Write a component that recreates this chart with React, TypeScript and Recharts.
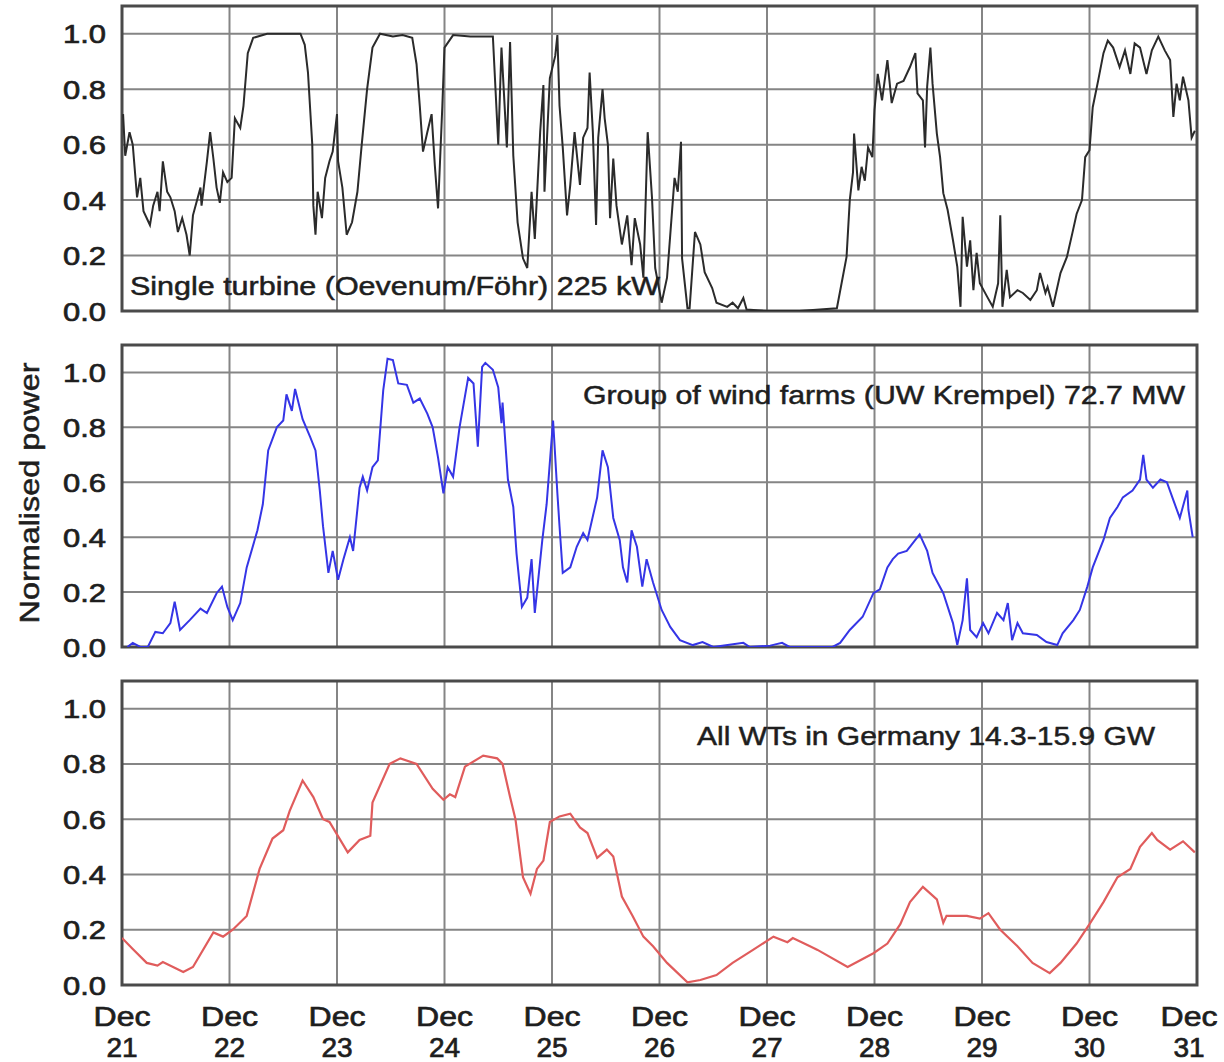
import React from 'react';
import { LineChart, Line, XAxis, YAxis, CartesianGrid, ReferenceArea } from 'recharts';

const DAY_TICKS = [0, 1, 2, 3, 4, 5, 6, 7, 8, 9, 10];
const DAY_LABELS = ['21', '22', '23', '24', '25', '26', '27', '28', '29', '30', '31'];
const MONTH_LABEL = 'Dec';
const Y_TICKS = [0, 0.2, 0.4, 0.6, 0.8, 1.0];
const Y_LABEL = 'Normalised power';
const TITLES = [
  'Single turbine (Oevenum/Föhr) 225 kW',
  'Group of wind farms (UW Krempel) 72.7 MW',
  'All WTs in Germany 14.3-15.9 GW',
];

// Single turbine (days after Dec 21 00:00, normalised power)
const turbineT = [0.01, 0.03, 0.07, 0.10, 0.14, 0.17, 0.20, 0.26, 0.29, 0.33, 0.35, 0.38, 0.42, 0.45, 0.49, 0.52, 0.56, 0.60, 0.63, 0.66, 0.73, 0.74, 0.79, 0.82, 0.85, 0.88, 0.91, 0.94, 0.98, 1.02, 1.05, 1.10, 1.13, 1.17, 1.22, 1.35, 1.66, 1.70, 1.73, 1.77, 1.78, 1.80, 1.82, 1.86, 1.89, 1.93, 1.96, 2.00, 2.01, 2.05, 2.09, 2.14, 2.19, 2.23, 2.28, 2.33, 2.40, 2.52, 2.61, 2.70, 2.74, 2.77, 2.80, 2.84, 2.88, 2.91, 2.94, 2.98, 3.00, 3.08, 3.24, 3.33, 3.45, 3.50, 3.53, 3.58, 3.61, 3.64, 3.68, 3.73, 3.77, 3.81, 3.84, 3.89, 3.92, 3.93, 3.98, 4.03, 4.05, 4.07, 4.10, 4.14, 4.17, 4.21, 4.26, 4.29, 4.33, 4.35, 4.38, 4.41, 4.43, 4.47, 4.49, 4.52, 4.54, 4.57, 4.60, 4.65, 4.70, 4.74, 4.77, 4.82, 4.85, 4.89, 4.93, 4.96, 5.02, 5.07, 5.14, 5.17, 5.20, 5.21, 5.26, 5.28, 5.33, 5.38, 5.42, 5.49, 5.53, 5.63, 5.68, 5.73, 5.78, 5.81, 6.00, 6.30, 6.65, 6.74, 6.77, 6.80, 6.81, 6.85, 6.88, 6.91, 6.94, 6.98, 7.00, 7.03, 7.07, 7.12, 7.16, 7.21, 7.27, 7.33, 7.38, 7.40, 7.45, 7.47, 7.49, 7.52, 7.54, 7.58, 7.61, 7.64, 7.68, 7.73, 7.77, 7.80, 7.82, 7.86, 7.89, 7.92, 7.95, 7.98, 8.05, 8.10, 8.15, 8.17, 8.19, 8.23, 8.26, 8.33, 8.38, 8.45, 8.51, 8.54, 8.59, 8.61, 8.66, 8.73, 8.79, 8.84, 8.88, 8.93, 8.96, 9.00, 9.03, 9.08, 9.13, 9.17, 9.22, 9.28, 9.33, 9.38, 9.42, 9.47, 9.53, 9.58, 9.64, 9.70, 9.75, 9.78, 9.81, 9.84, 9.87, 9.92, 9.95, 9.98];
const turbineV = [0.71, 0.56, 0.645, 0.60, 0.41, 0.48, 0.36, 0.31, 0.38, 0.43, 0.36, 0.54, 0.43, 0.41, 0.36, 0.285, 0.335, 0.275, 0.20, 0.345, 0.445, 0.38, 0.54, 0.645, 0.55, 0.445, 0.39, 0.50, 0.465, 0.48, 0.695, 0.66, 0.74, 0.93, 0.985, 1.0, 1.0, 0.96, 0.86, 0.60, 0.38, 0.275, 0.43, 0.335, 0.48, 0.54, 0.575, 0.71, 0.54, 0.445, 0.275, 0.32, 0.43, 0.60, 0.80, 0.95, 1.0, 0.99, 0.995, 0.985, 0.89, 0.74, 0.575, 0.645, 0.71, 0.525, 0.37, 0.74, 0.95, 0.995, 0.99, 0.99, 0.99, 0.60, 0.95, 0.59, 0.97, 0.56, 0.32, 0.19, 0.155, 0.43, 0.26, 0.645, 0.815, 0.43, 0.84, 0.92, 0.995, 0.74, 0.59, 0.345, 0.455, 0.645, 0.455, 0.625, 0.66, 0.86, 0.645, 0.31, 0.625, 0.80, 0.695, 0.60, 0.335, 0.55, 0.38, 0.24, 0.345, 0.165, 0.335, 0.24, 0.12, 0.645, 0.41, 0.155, 0.03, 0.12, 0.48, 0.43, 0.61, 0.19, 0.01, 0.01, 0.285, 0.24, 0.14, 0.083, 0.03, 0.015, 0.03, 0.01, 0.047, 0.005, 0, 0, 0.01, 0.195, 0.40, 0.50, 0.64, 0.435, 0.52, 0.47, 0.59, 0.555, 0.725, 0.855, 0.76, 0.905, 0.75, 0.82, 0.83, 0.88, 0.93, 0.785, 0.76, 0.59, 0.81, 0.95, 0.82, 0.64, 0.555, 0.425, 0.365, 0.255, 0.16, 0.015, 0.34, 0.16, 0.255, 0.075, 0.21, 0.10, 0.05, 0.015, 0.10, 0.345, 0.015, 0.148, 0.05, 0.075, 0.065, 0.04, 0.075, 0.137, 0.065, 0.087, 0.015, 0.137, 0.195, 0.28, 0.35, 0.40, 0.555, 0.58, 0.735, 0.83, 0.93, 0.975, 0.95, 0.88, 0.94, 0.855, 0.965, 0.95, 0.855, 0.94, 0.99, 0.94, 0.905, 0.70, 0.82, 0.76, 0.845, 0.76, 0.625, 0.65];

// Group of wind farms
const farmsT = [0.05, 0.10, 0.17, 0.24, 0.31, 0.38, 0.45, 0.49, 0.54, 0.63, 0.73, 0.79, 0.88, 0.93, 0.98, 1.03, 1.10, 1.16, 1.26, 1.31, 1.36, 1.44, 1.50, 1.53, 1.58, 1.61, 1.68, 1.75, 1.80, 1.84, 1.87, 1.92, 1.96, 2.01, 2.06, 2.12, 2.15, 2.21, 2.24, 2.28, 2.33, 2.38, 2.43, 2.47, 2.52, 2.57, 2.65, 2.71, 2.77, 2.84, 2.89, 2.94, 2.99, 3.03, 3.08, 3.14, 3.22, 3.27, 3.31, 3.35, 3.38, 3.45, 3.50, 3.53, 3.54, 3.59, 3.64, 3.67, 3.72, 3.77, 3.81, 3.84, 3.91, 3.95, 4.01, 4.05, 4.07, 4.10, 4.17, 4.23, 4.29, 4.33, 4.42, 4.47, 4.52, 4.57, 4.63, 4.66, 4.70, 4.74, 4.79, 4.84, 4.88, 4.94, 5.02, 5.10, 5.19, 5.31, 5.40, 5.50, 5.78, 5.84, 6.03, 6.14, 6.21, 6.61, 6.68, 6.77, 6.89, 6.99, 7.05, 7.12, 7.17, 7.22, 7.30, 7.36, 7.42, 7.49, 7.54, 7.64, 7.73, 7.77, 7.82, 7.86, 7.89, 7.95, 8.01, 8.06, 8.14, 8.20, 8.24, 8.28, 8.33, 8.38, 8.51, 8.60, 8.70, 8.75, 8.85, 8.91, 8.98, 9.03, 9.13, 9.19, 9.26, 9.31, 9.40, 9.47, 9.50, 9.53, 9.59, 9.66, 9.72, 9.78, 9.84, 9.91, 9.92, 9.96];
const farmsV = [0.0, 0.015, 0.0, 0.0, 0.055, 0.05, 0.087, 0.165, 0.062, 0.098, 0.14, 0.124, 0.196, 0.22, 0.146, 0.098, 0.16, 0.29, 0.425, 0.52, 0.716, 0.80, 0.825, 0.92, 0.86, 0.94, 0.83, 0.765, 0.716, 0.57, 0.44, 0.27, 0.35, 0.245, 0.32, 0.40, 0.35, 0.58, 0.62, 0.57, 0.655, 0.68, 0.935, 1.05, 1.045, 0.96, 0.955, 0.89, 0.905, 0.85, 0.80, 0.69, 0.56, 0.655, 0.62, 0.80, 0.98, 0.96, 0.73, 1.02, 1.035, 1.01, 0.945, 0.815, 0.89, 0.61, 0.51, 0.34, 0.146, 0.18, 0.32, 0.124, 0.39, 0.52, 0.825, 0.56, 0.44, 0.27, 0.29, 0.365, 0.415, 0.39, 0.545, 0.716, 0.655, 0.47, 0.39, 0.29, 0.235, 0.425, 0.365, 0.22, 0.32, 0.235, 0.135, 0.073, 0.025, 0.007, 0.018, 0.0, 0.015, 0.0, 0.005, 0.015, 0.0, 0.0, 0.015, 0.062, 0.11, 0.196, 0.21, 0.29, 0.32, 0.34, 0.35, 0.38, 0.41, 0.35, 0.27, 0.196, 0.087, 0.007, 0.098, 0.25, 0.062, 0.036, 0.087, 0.05, 0.124, 0.098, 0.16, 0.025, 0.087, 0.05, 0.044, 0.018, 0.007, 0.05, 0.098, 0.135, 0.22, 0.29, 0.39, 0.47, 0.51, 0.545, 0.57, 0.61, 0.70, 0.61, 0.58, 0.61, 0.60, 0.535, 0.47, 0.57, 0.50, 0.40];

// All wind turbines in Germany
const germanyT = [0.00, 0.10, 0.23, 0.33, 0.38, 0.57, 0.66, 0.85, 0.94, 1.03, 1.16, 1.28, 1.40, 1.50, 1.56, 1.68, 1.78, 1.87, 1.93, 2.10, 2.21, 2.31, 2.33, 2.49, 2.59, 2.74, 2.89, 2.99, 3.05, 3.10, 3.19, 3.36, 3.49, 3.54, 3.61, 3.66, 3.73, 3.80, 3.86, 3.92, 3.98, 4.07, 4.17, 4.26, 4.33, 4.42, 4.51, 4.57, 4.65, 4.75, 4.85, 4.94, 5.07, 5.26, 5.38, 5.53, 5.68, 5.87, 6.06, 6.19, 6.24, 6.40, 6.47, 6.75, 6.99, 7.12, 7.24, 7.33, 7.45, 7.58, 7.64, 7.67, 7.86, 7.98, 8.06, 8.17, 8.33, 8.47, 8.63, 8.73, 8.88, 9.00, 9.13, 9.26, 9.38, 9.47, 9.58, 9.63, 9.75, 9.87, 9.98];
const germanyV = [0.17, 0.13, 0.08, 0.07, 0.083, 0.047, 0.065, 0.19, 0.175, 0.20, 0.25, 0.42, 0.53, 0.56, 0.63, 0.74, 0.68, 0.60, 0.59, 0.48, 0.525, 0.54, 0.66, 0.80, 0.82, 0.80, 0.71, 0.67, 0.69, 0.68, 0.79, 0.83, 0.82, 0.80, 0.68, 0.60, 0.39, 0.33, 0.42, 0.45, 0.59, 0.61, 0.62, 0.57, 0.55, 0.46, 0.49, 0.465, 0.32, 0.25, 0.175, 0.14, 0.08, 0.01, 0.018, 0.036, 0.08, 0.127, 0.175, 0.155, 0.17, 0.14, 0.127, 0.065, 0.115, 0.15, 0.22, 0.30, 0.355, 0.31, 0.225, 0.25, 0.25, 0.24, 0.26, 0.20, 0.14, 0.08, 0.043, 0.08, 0.15, 0.22, 0.30, 0.39, 0.42, 0.50, 0.55, 0.525, 0.49, 0.52, 0.48];

const zip = (t: number[], v: number[]) => t.map((x, i) => ({ t: x, v: v[i] }));
const turbineData = zip(turbineT, turbineV);
const farmsData = zip(farmsT, farmsV);
const germanyData = zip(germanyT, germanyV);

const FONT = '"Liberation Sans", Arial, Helvetica, sans-serif';
const INK = '#1e1e1e';
const W = 1224;
const PLOT_LEFT = 122;
const PLOT_RIGHT_MARGIN = 27;

const YTick = (props: any) => {
  const { x, y, payload } = props;
  return (
    <text x={x} y={y} dy={9.5} textAnchor="end" fontSize={26} fill={INK} stroke={INK} strokeWidth={0.7}
      fontFamily={FONT} textLength={43} lengthAdjust="spacingAndGlyphs">
      {Number(payload.value).toFixed(1)}
    </text>
  );
};

const XTick = (props: any) => {
  const { x, y, index } = props;
  const shift = index === DAY_TICKS.length - 1 ? -8 : 0;
  return (
    <g>
      <text x={x + shift} y={y + 41} textAnchor="middle" fontSize={28} fill={INK} stroke={INK} strokeWidth={0.7}
        fontFamily={FONT} textLength={57} lengthAdjust="spacingAndGlyphs">{MONTH_LABEL}</text>
      <text x={x + shift} y={y + 72} textAnchor="middle" fontSize={28} fill={INK} stroke={INK} strokeWidth={0.7}
        fontFamily={FONT}>
        {DAY_LABELS[index] ?? ''}
      </text>
    </g>
  );
};

const EmptyTick = () => <g />;

type PanelProps = {
  data: { t: number; v: number }[];
  color: string;
  strokeWidth: number;
  top: number;
  plotHeight: number;
  showX: boolean;
};

const Panel = ({ data, color, strokeWidth, top, plotHeight, showX }: PanelProps) => {
  const mTop = 14;
  const xH = showX ? 78 : 1;
  const mBottom = showX ? 0 : 14;
  const height = mTop + plotHeight + xH + mBottom;
  return (
    <div style={{ position: 'absolute', left: 0, top: top - mTop }}>
      <LineChart width={W} height={height} data={data}
        margin={{ top: mTop, right: PLOT_RIGHT_MARGIN, bottom: mBottom, left: 0 }}>
        <CartesianGrid stroke="#858585" strokeWidth={2} />
        <XAxis dataKey="t" type="number" domain={[0, 10]} ticks={DAY_TICKS} interval={0}
          height={xH} axisLine={false} tickLine={false} tickSize={0} tickMargin={0}
          tick={showX ? <XTick /> : <EmptyTick />} allowDataOverflow />
        <YAxis type="number" domain={[0, 1.1]} ticks={Y_TICKS} interval={0} width={PLOT_LEFT}
          axisLine={false} tickLine={false} tickSize={0} tickMargin={16} tick={<YTick />} allowDataOverflow />
        <ReferenceArea x1={0} x2={10} y1={0} y2={1.1} fill="none" fillOpacity={0} stroke="#4a4a4a"
          strokeWidth={3} ifOverflow="visible" />
        <Line type="linear" dataKey="v" stroke={color} strokeWidth={strokeWidth} dot={false}
          isAnimationActive={false} />
      </LineChart>
    </div>
  );
};

export default function App() {
  return (
    <div style={{ position: 'absolute', left: 0, top: 0, width: W, height: 1062, background: '#fff', overflow: 'hidden' }}>
      <Panel data={turbineData} color="#2b2b2b" strokeWidth={2} top={6} plotHeight={305} showX={false} />
      <Panel data={farmsData} color="#3535e6" strokeWidth={2} top={345} plotHeight={302} showX={false} />
      <Panel data={germanyData} color="#e05c5c" strokeWidth={2.2} top={681} plotHeight={304} showX={true} />
      <svg width={W} height={1062} style={{ position: 'absolute', left: 0, top: 0, pointerEvents: 'none' }}>
        <text x={130} y={295} fontSize={25} fill={INK} stroke={INK} strokeWidth={0.5} fontFamily={FONT}
          textLength={530} lengthAdjust="spacingAndGlyphs">{TITLES[0]}</text>
        <text x={583} y={404} fontSize={26} fill={INK} stroke={INK} strokeWidth={0.5} fontFamily={FONT}
          textLength={602} lengthAdjust="spacingAndGlyphs">{TITLES[1]}</text>
        <text x={697} y={745} fontSize={26} fill={INK} stroke={INK} strokeWidth={0.5} fontFamily={FONT}
          textLength={458} lengthAdjust="spacingAndGlyphs">{TITLES[2]}</text>
        <text x={0} y={0} transform="translate(39,493) rotate(-90)" textAnchor="middle" fontSize={27}
          fill={INK} stroke={INK} strokeWidth={0.5} fontFamily={FONT} textLength={261}
          lengthAdjust="spacingAndGlyphs">{Y_LABEL}</text>
      </svg>
    </div>
  );
}
